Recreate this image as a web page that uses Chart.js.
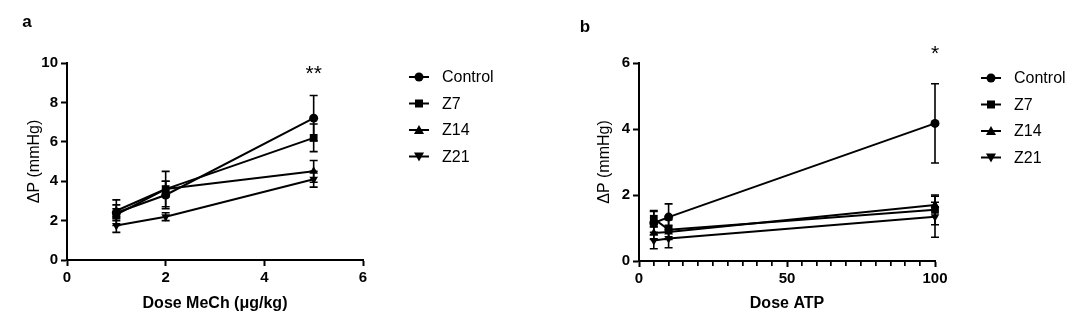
<!DOCTYPE html>
<html>
<head>
<meta charset="utf-8">
<title>Dose response</title>
<script src="https://cdn.jsdelivr.net/npm/chart.js@4.4.1/dist/chart.umd.min.js"></script>
<style>
    body { margin: 0; background: #fff; width: 1080px; height: 329px; overflow: hidden; position: relative; }
    .panel { position: absolute; top: 0; height: 329px; }
    #panelA { left: 0; width: 560px; }
    #panelB { left: 560px; width: 520px; }
</style>
</head>
<body>
<div class="panel" id="panelA"><canvas id="chartA" width="560" height="329"></canvas></div>
<div class="panel" id="panelB"><canvas id="chartB" width="520" height="329"></canvas></div>
<script>
// --- data ---
const seriesNames = ['Control', 'Z7', 'Z14', 'Z21'];
const markerStyles = ['circle', 'rect', 'triangle', 'triangle'];
const markerRotations = [0, 0, 0, 180];

// panel a: methacholine
const doseMeCh = [1, 2, 5];
const meChControl = [2.4, 3.3, 7.2];
const meChZ7 = [2.3, 3.6, 6.2];
const meChZ14 = [2.5, 3.6, 4.5];
const meChZ21 = [1.75, 2.2, 4.1];
const meChControlErr = [0.65, 0.7, 1.15];
const meChZ7Err = [0.3, 0.9, 0.7];
const meChZ14Err = [0.3, 0.4, 0.55];
const meChZ21Err = [0.35, 0.2, 0.4];

// panel b: ATP
const doseATP = [5, 10, 100];
const atpControl = [1.15, 1.33, 4.17];
const atpZ7 = [1.28, 0.95, 1.55];
const atpZ14 = [0.85, 0.88, 1.7];
const atpZ21 = [0.62, 0.68, 1.34];
const atpControlErr = [0.35, 0.4, 1.2];
const atpZ7Err = [0.25, 0.3, 0.45];
const atpZ14Err = [0.2, 0.2, 0.08];
const atpZ21Err = [0.25, 0.28, 0.62];

const FONT = "'Liberation Sans', Arial, sans-serif";

function buildDatasets(doses, values, errors) {
    return values.map((vals, s) => ({
        label: seriesNames[s],
        data: doses.map((d, i) => ({ x: d, y: vals[i] })),
        errors: errors[s],
        borderColor: '#000',
        backgroundColor: '#000',
        borderWidth: 2,
        pointStyle: markerStyles[s],
        pointRotation: markerRotations[s],
        pointRadius: s === 0 ? 4.5 : (s === 1 ? 5.5 : 5),
        pointBorderWidth: 0,
        tension: 0,
        clip: false
    }));
}

// draws mean ± error whiskers with small caps
const errorBars = {
    id: 'errorBars',
    beforeDatasetsDraw(chart) {
        const { ctx, scales: { x, y } } = chart;
        ctx.save();
        ctx.strokeStyle = '#000';
        ctx.lineWidth = 1.6;
        chart.data.datasets.forEach(ds => {
            ds.data.forEach((p, i) => {
                const e = ds.errors[i];
                const px = x.getPixelForValue(p.x);
                const top = y.getPixelForValue(p.y + e);
                const bot = y.getPixelForValue(p.y - e);
                ctx.beginPath();
                ctx.moveTo(px, top); ctx.lineTo(px, bot);
                ctx.moveTo(px - 4, top); ctx.lineTo(px + 4, top);
                ctx.moveTo(px - 4, bot); ctx.lineTo(px + 4, bot);
                ctx.stroke();
            });
        });
        ctx.restore();
    }
};

function drawMarker(ctx, style, rotation, cx, cy) {
    ctx.beginPath();
    if (style === 'circle') {
        ctx.arc(cx, cy, 4.5, 0, Math.PI * 2);
    } else if (style === 'rect') {
        ctx.rect(cx - 4, cy - 4, 8, 8);
    } else {
        const d = rotation ? -1 : 1;
        ctx.moveTo(cx, cy - 5 * d);
        ctx.lineTo(cx + 5, cy + 4 * d);
        ctx.lineTo(cx - 5, cy + 4 * d);
        ctx.closePath();
    }
    ctx.fill();
}

// panel letter, significance stars, minor x ticks and the legend at the right
function panelDecor(cfg) {
    return {
        id: 'panelDecor',
        afterDraw(chart) {
            const { ctx, scales: { x }, chartArea } = chart;
            ctx.save();
            ctx.fillStyle = '#000';
            ctx.strokeStyle = '#000';

            if (cfg.minorStep) {
                for (let v = cfg.minorStep; v < x.max; v += cfg.minorStep) {
                    if (v % 50 === 0) continue;
                    const px = Math.round(x.getPixelForValue(v));
                    ctx.fillRect(px - 1, chartArea.bottom, 1.7, 5);
                }
            }

            ctx.font = `bold 17px ${FONT}`;
            ctx.textAlign = 'center';
            ctx.textBaseline = 'middle';
            ctx.fillText(cfg.letter, cfg.letterX, cfg.letterY);

            ctx.font = `21px ${FONT}`;
            ctx.textBaseline = 'alphabetic';
            ctx.fillText(cfg.star, x.getPixelForValue(cfg.starDose), cfg.starY);

            ctx.font = `16px ${FONT}`;
            ctx.textAlign = 'left';
            ctx.textBaseline = 'middle';
            seriesNames.forEach((name, i) => {
                const ly = cfg.legendY + i * 26.5;
                ctx.lineWidth = 2;
                ctx.beginPath();
                ctx.moveTo(cfg.legendX - 10, ly);
                ctx.lineTo(cfg.legendX + 10, ly);
                ctx.stroke();
                drawMarker(ctx, markerStyles[i], markerRotations[i], cfg.legendX, ly);
                ctx.fillText(name, cfg.legendX + 23, ly + 1);
            });
            ctx.restore();
        }
    };
}

function makeChart(canvasId, cfg) {
    return new Chart(document.getElementById(canvasId), {
        type: 'line',
        data: { datasets: cfg.datasets },
        options: {
            responsive: false,
            animation: false,
            layout: { padding: { left: 0, top: 63, right: cfg.padRight, bottom: 0 } },
            plugins: { legend: { display: false }, tooltip: { enabled: false } },
            scales: {
                x: {
                    type: 'linear',
                    min: cfg.xMin, max: cfg.xMax,
                    afterFit: s => { s.height = cfg.xHeight; },
                    border: { display: true, color: '#000', width: 2 },
                    grid: {
                        drawOnChartArea: false, drawTicks: true, tickLength: 6,
                        tickColor: '#000', tickWidth: 2
                    },
                    ticks: {
                        stepSize: cfg.xStep, autoSkip: false, maxRotation: 0, padding: 3,
                        color: '#000', font: { family: FONT, size: 15, weight: 'bold' }
                    },
                    title: {
                        display: true, text: cfg.xTitle, color: '#000',
                        font: { family: FONT, size: 16, weight: 'bold' },
                        padding: { top: 0, bottom: 15.4 }
                    }
                },
                y: {
                    min: 0, max: cfg.yMax,
                    afterFit: s => { s.width = cfg.yWidth; },
                    border: { display: true, color: '#000', width: 2 },
                    grid: {
                        drawOnChartArea: false, drawTicks: true, tickLength: 6,
                        tickColor: '#000', tickWidth: 2
                    },
                    ticks: {
                        stepSize: cfg.yStep, padding: 3,
                        color: '#000', font: { family: FONT, size: 15, weight: 'bold' }
                    },
                    title: {
                        display: true, text: 'ΔP (mmHg)', color: '#000',
                        font: { family: FONT, size: 16 },
                        padding: { top: cfg.yTitlePad, bottom: 0 }
                    }
                }
            }
        },
        plugins: [errorBars, panelDecor(cfg.decor)]
    });
}

makeChart('chartA', {
    datasets: buildDatasets(doseMeCh,
        [meChControl, meChZ7, meChZ14, meChZ21],
        [meChControlErr, meChZ7Err, meChZ14Err, meChZ21Err]),
    padRight: 197, xHeight: 69, yWidth: 67, yTitlePad: 25.4,
    xMin: 0, xMax: 6, xStep: 2,
    xTitle: 'Dose MeCh (μg/kg)',
    yMax: 10, yStep: 2,
    decor: { letter: 'a', letterX: 27, letterY: 22, star: '**', starDose: 5, starY: 80, legendX: 419, legendY: 77, minorStep: 0 }
});

makeChart('chartB', {
    datasets: buildDatasets(doseATP,
        [atpControl, atpZ7, atpZ14, atpZ21],
        [atpControlErr, atpZ7Err, atpZ14Err, atpZ21Err]),
    padRight: 145, xHeight: 68, yWidth: 79, yTitlePad: 35.4,
    xMin: 0, xMax: 100, xStep: 50,
    xTitle: 'Dose ATP',
    yMax: 6, yStep: 2,
    decor: { letter: 'b', letterX: 25, letterY: 27, star: '*', starDose: 100, starY: 60, legendX: 431, legendY: 78, minorStep: 5 }
});
</script>
</body>
</html>
